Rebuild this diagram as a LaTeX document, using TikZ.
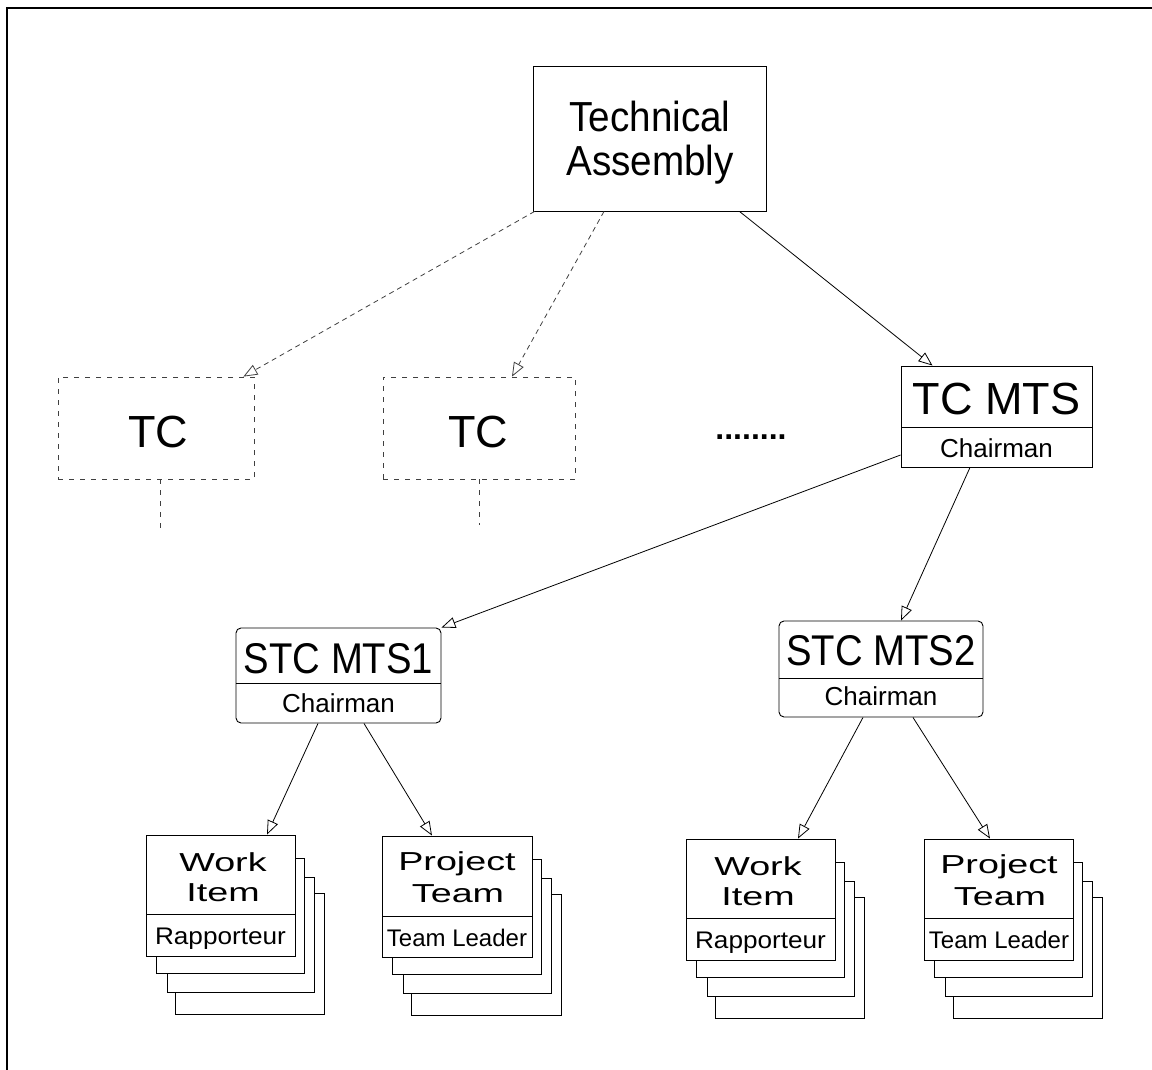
\documentclass[tikz,border=0pt]{standalone}
\usepackage{fontspec}
\setmainfont{Liberation Sans}
\usepackage{graphicx}
\usetikzlibrary{arrows.meta,fit}
\newcommand{\fs}[1]{\fontsize{#1}{#1}\selectfont}
\newcommand{\sx}[2]{\scalebox{#1}[1]{#2}}
\newcommand{\backs}[4]{%
  \draw[backbox] ({#1+29},{#2+58}) rectangle ({#3+29},{#4+58});
  \draw[backbox] ({#1+21},{#2+42}) rectangle ({#3+19},{#4+36});
  \draw[backbox] ({#1+10},{#2+23}) rectangle ({#3+9},{#4+17});}
\begin{document}
\begin{tikzpicture}[x=1pt,y=-1pt,
  box/.style={draw,line width=0.9pt,inner sep=0pt,fill=white},
  dbox/.style={draw=black!75,line width=0.8pt,dash pattern=on 5pt off 6pt,inner sep=0pt},
  dline/.style={draw=black!75,line width=0.8pt,dash pattern=on 5pt off 6pt},
  txt/.style={inner sep=0pt,anchor=base},
  arr/.style={line width=0.8pt,-{Triangle[open,length=14pt,width=11pt]}},
  darr/.style={arr,draw=black!75,dash pattern=on 5pt off 4pt},
  backbox/.style={draw,line width=0.9pt,fill=white}]
\useasboundingbox (0,0) rectangle (1152,1070);
\draw[line width=2.8pt] (7,1070) -- (7,8) -- (1152,8);

% Technical Assembly
\node[box,fit={(533,66) (766,211)}] (ta) {};
\node[txt] (ta1) at (650,132) {\fs{42}\sx{0.92}{Technical}};
\node[txt] (ta2) at (650,176) {\fs{42}\sx{0.92}{Assembly}};

% TC dashed
\node[dbox,fit={(58,377) (254,479)}] (tc1) {};
\node[txt] (tc1t) at (158,447) {\fs{45}TC};
\node[dbox,fit={(383,377) (575,479)}] (tc2) {};
\node[txt] (tc2t) at (478,447) {\fs{45}TC};
\coordinate (tc1e) at (160,530);
\coordinate (tc2e) at (479,525);
\draw[dline] (tc1.south -| tc1e) -- (tc1e);
\draw[dline] (tc2.south -| tc2e) -- (tc2e);

\node[inner sep=0pt] (dots) at (751,437) {\fs{32}\bfseries ........};

% TC MTS
\node[box,fit={(901,366) (1092,467)}] (tcm) {};
\draw[line width=0.9pt] (901,427) -- (1092,427);
\node[txt] (tcmt) at (996.5,414) {\fs{45}TC MTS};
\node[txt] (tcmc) at (996.5,457) {\fs{26}Chairman};

% STC MTS1
\node[box,rounded corners=5pt,fit={(236,628) (441,723)}] (stc1) {};
\draw[line width=0.9pt] (236,683) -- (441,683);
\node[txt] (stc1t) at (338.5,673) {\fs{43}\sx{0.89}{STC MTS1}};
\node[txt] (stc1c) at (338.5,712) {\fs{26}Chairman};

% STC MTS2
\node[box,rounded corners=5pt,fit={(779,621) (983,717)}] (stc2) {};
\draw[line width=0.9pt] (779,678) -- (983,678);
\node[txt] (stc2t) at (881,665) {\fs{43}\sx{0.89}{STC MTS2}};
\node[txt] (stc2c) at (881,705) {\fs{26}Chairman};

% Work Item 1
\backs{146}{835}{295}{956}
\node[box,fit={(146,835) (295,956)}] (wi1) {};
\draw[line width=0.9pt] (146,914) -- (295,914);
\node[txt] (wi1a) at (223,871) {\fs{26}\sx{1.45}{Work}};
\node[txt] (wi1b) at (223,901) {\fs{26}\sx{1.45}{Item}};
\node[txt] (wi1c) at (220.5,944) {\fs{24}\sx{1.09}{Rapporteur}};

% Project Team 1
\backs{382}{836}{532}{957}
\node[box,fit={(382,836) (532,957)}] (pt1) {};
\draw[line width=0.9pt] (382,916) -- (532,916);
\node[txt] (pt1a) at (457,870) {\fs{26}\sx{1.45}{Project}};
\node[txt] (pt1b) at (458,902) {\fs{26}\sx{1.45}{Team}};
\node[txt] (pt1c) at (457,946) {\fs{24}Team Leader};

% Work Item 2
\backs{686}{839}{835}{960}
\node[box,fit={(686,839) (835,960)}] (wi2) {};
\draw[line width=0.9pt] (686,918) -- (835,918);
\node[txt] (wi2a) at (758,875) {\fs{26}\sx{1.45}{Work}};
\node[txt] (wi2b) at (758,905) {\fs{26}\sx{1.45}{Item}};
\node[txt] (wi2c) at (760.5,948) {\fs{24}\sx{1.09}{Rapporteur}};

% Project Team 2
\backs{924}{839}{1073}{960}
\node[box,fit={(924,839) (1073,960)}] (pt2) {};
\draw[line width=0.9pt] (924,918) -- (1073,918);
\node[txt] (pt2a) at (999,873) {\fs{26}\sx{1.45}{Project}};
\node[txt] (pt2b) at (1000,905) {\fs{26}\sx{1.45}{Team}};
\node[txt] (pt2c) at (999,948) {\fs{24}Team Leader};

% connectors
\draw[darr] ([xshift=2pt]ta.south west) -- ([xshift=-11pt]tc1.north east);
\draw[darr] ([xshift=-45.5pt]ta.south) -- ([xshift=33pt]tc2.north);
\draw[arr] ([xshift=90pt]ta.south) -- ([xshift=-64pt]tcm.north);
\draw[arr] ([yshift=-38.5pt]tcm.west) -- (stc1.north east);
\draw[arr] ([xshift=-26.5pt]tcm.south) -- ([xshift=20pt]stc2.north);
\draw[arr] ([xshift=-20.5pt]stc1.south) -- ([xshift=46.5pt]wi1.north);
\draw[arr] ([xshift=25.5pt]stc1.south) -- ([xshift=-25pt]pt1.north);
\draw[arr] ([xshift=-18pt]stc2.south) -- ([xshift=37.5pt]wi2.north);
\draw[arr] ([xshift=32pt]stc2.south) -- ([xshift=-8.5pt]pt2.north);
\end{tikzpicture}
\end{document}
